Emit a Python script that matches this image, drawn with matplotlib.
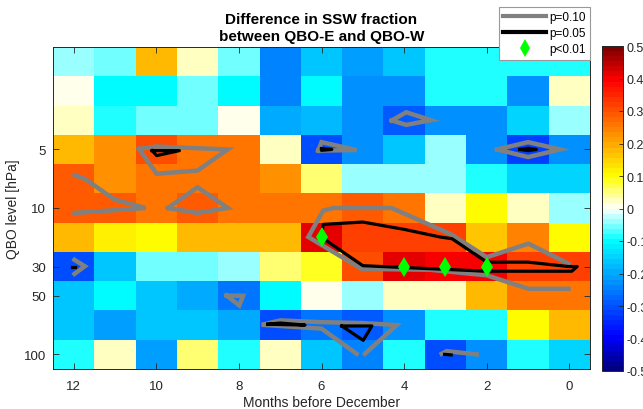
import matplotlib
matplotlib.use("Agg")
import matplotlib.pyplot as plt
import numpy as np
from matplotlib.colors import LinearSegmentedColormap, Normalize
from matplotlib.lines import Line2D

plt.rcParams['font.family'] = ['Liberation Sans', 'DejaVu Sans']

# ---------------- data ----------------
months = [12, 11, 10, 9, 8, 7, 6, 5, 4, 3, 2, 1, 0]
qbo_levels = [1, 2, 3, 5, 7, 10, 20, 30, 50, 70, 100]   # hPa, top to bottom
labelled_levels = [5, 10, 30, 50, 100]
xtick_months = [12, 10, 8, 6, 4, 2, 0]

row_1 = [-0.033, -0.055, 0.175, 0.03, -0.055, -0.235, -0.16, -0.205, -0.16, -0.08, -0.08, -0.08, -0.08]
row_2 = [0.0, -0.1, -0.1, -0.055, -0.1, -0.235, -0.1, -0.22, -0.22, -0.08, -0.08, -0.22, 0.03]
row_3 = [0.03, -0.08, -0.055, -0.055, 0.0, -0.19, -0.175, -0.22, -0.295, -0.22, -0.22, -0.145, -0.033]
row_5 = [0.175, 0.22, 0.31, 0.265, 0.25, 0.03, -0.31, -0.22, -0.16, -0.033, -0.22, -0.325, -0.22]
row_7 = [0.295, 0.22, 0.25, 0.25, 0.25, 0.22, 0.06, -0.033, -0.033, -0.033, -0.08, -0.145, -0.145]
row_10 = [0.295, 0.295, 0.25, 0.295, 0.25, 0.25, 0.25, 0.295, 0.25, 0.03, 0.1, 0.03, -0.033]
row_20 = [0.175, 0.115, 0.1, 0.175, 0.175, 0.175, 0.42, 0.325, 0.325, 0.325, 0.16, 0.235, 0.1]
row_30 = [-0.31, -0.16, -0.055, -0.055, -0.033, 0.06, 0.09, 0.31, 0.42, 0.4, 0.4, 0.325, 0.325]
row_50 = [-0.16, -0.1, -0.16, -0.19, -0.265, -0.1, 0.0, -0.033, 0.03, 0.03, 0.175, 0.25, 0.25]
row_70 = [-0.16, -0.205, -0.16, -0.16, -0.19, -0.31, -0.265, -0.295, -0.22, -0.08, -0.08, 0.1, 0.175]
row_100 = [-0.08, 0.03, -0.205, 0.06, -0.08, 0.03, -0.16, -0.235, -0.08, -0.31, -0.22, -0.08, -0.145]

# significance contours, (month, level-row index) vertices
p10_lines = [
    [(10.42, 2.98), (10.0, 2.9), (8.27, 3.0), (9.0, 3.72), (9.99, 3.83), (10.42, 2.98)],
    [(11.98, 3.87), (11.70, 4.03), (11.01, 4.71), (10.26, 5.0), (11.98, 5.17)],
    [(9.72, 5.0), (9.0, 4.29), (8.27, 5.0), (9.0, 5.17), (9.72, 5.0)],
    [(6.08, 3.04), (6.0, 2.75), (5.15, 3.02), (6.08, 3.04)],
    [(1.75, 3.0), (1.0, 2.75), (0.22, 3.0), (1.0, 3.26), (1.75, 3.0)],
    [(4.30, 2.01), (3.95, 1.73), (3.35, 2.0), (3.95, 2.16), (4.30, 2.01)],
    [(0.02, 6.9), (0.99, 6.22), (2.0, 6.68), (2.86, 5.9), (4.3, 5.0), (5.71, 5.0), (5.96, 5.09),
     (6.32, 5.99), (5.03, 7.08), (3.37, 7.11), (2.0, 7.3), (0.99, 7.76), (0.02, 7.76)],
    [(11.98, 6.77), (11.73, 6.99), (11.98, 7.25)],
    [(8.30, 7.99), (7.90, 8.0), (7.99, 8.33), (8.30, 7.99)],
    [(5.15, 9.98), (6.0, 9.12), (7.45, 8.99), (7.0, 8.84), (6.0, 8.9), (5.0, 8.93), (4.18, 9.0), (4.95, 9.98)],
    [(3.09, 9.98), (2.97, 9.89), (2.24, 10.0)],
]
p05_lines = [
    [(10.1, 3.04), (9.44, 3.04), (9.99, 3.21), (10.1, 3.04)],
    [(6.0, 2.97), (5.75, 3.0), (6.0, 3.03), (6.0, 2.97)],
    [(1.2, 3.0), (1.0, 2.96), (0.8, 3.0), (1.0, 3.04), (1.2, 3.0)],
    [(6.0, 6.0), (5.96, 5.56), (5.0, 5.48), (4.0, 5.73), (3.13, 5.99), (2.84, 6.05), (2.0, 6.85),
     (1.0, 6.85), (0.02, 7.0), (-0.19, 7.0), (-0.06, 7.16), (2.0, 7.16), (5.0, 6.97), (6.0, 6.0)],
    [(12.04, 7.0), (11.96, 7.0)],
    [(7.3, 8.97), (6.4, 9.0), (7.0, 8.93), (7.3, 8.97)],
    [(5.51, 9.03), (4.78, 9.03), (4.99, 9.52), (5.51, 9.03)],
    [(3.02, 10.0), (2.86, 10.02)],
]
p01_months = [6, 4, 3, 2]
p01_rows = [6, 7, 7, 7]

# ---------------- figure ----------------
values = np.array([row_1, row_2, row_3, row_5, row_7, row_10, row_20,
                   row_30, row_50, row_70, row_100])
rows = np.arange(len(qbo_levels))

cmap = LinearSegmentedColormap.from_list(
    "jetwhite",
    [(0.0, (0, 0, 0.5)), (0.1, (0, 0, 1)), (0.4, (0, 1, 1)), (0.5, (1, 1, 1)),
     (0.6, (1, 1, 0)), (0.9, (1, 0, 0)), (1.0, (0.5, 0, 0))], N=64)
norm = Normalize(-0.5, 0.5)

fig = plt.figure(figsize=(6.43, 4.10), dpi=100)
ax = fig.add_axes([53 / 643, 1 - 370 / 410, (590 - 53) / 643, (370 - 48) / 410])
mesh = ax.pcolormesh(months, rows, values, cmap=cmap, norm=norm, shading='nearest')
ax.set_xlim(12.5, -0.5)
ax.set_ylim(10.5, -0.5)

for path in p10_lines:
    xs, ys = zip(*path)
    ax.plot(xs, ys, color=(0.5, 0.5, 0.5), lw=3.2, solid_joinstyle='miter', zorder=3)
for path in p05_lines:
    xs, ys = zip(*path)
    ax.plot(xs, ys, color='black', lw=2.3, zorder=4)
ax.plot(p01_months, p01_rows, linestyle='none', marker='d', color=(0, 1, 0),
        markersize=10, markeredgewidth=0, zorder=5)

dark = (0.15, 0.15, 0.15)
ax.set_xticks(xtick_months)
ax.set_xticklabels([str(m) for m in xtick_months])
ytick_rows = [qbo_levels.index(l) for l in labelled_levels]
ax.set_yticks(ytick_rows)
ax.set_yticklabels([str(l) for l in labelled_levels])
ax.tick_params(direction='in', length=4, width=0.6, top=True, right=True,
               labelsize=9.5, colors=dark)
ax.tick_params(axis='x', pad=8)
ax.tick_params(axis='y', pad=5)
for s in ax.spines.values():
    s.set_color(dark)
    s.set_linewidth(0.7)
ax.set_xlabel("Months before December", fontsize=10, color=dark, labelpad=2)
ax.set_ylabel("QBO level [hPa]", fontsize=10, color=dark, labelpad=3)
ax.set_title("Difference in SSW fraction\nbetween QBO-E and QBO-W",
             fontsize=11, fontweight='bold', pad=5, linespacing=1.3)

cax = fig.add_axes([602 / 643, 1 - 372 / 410, 20.5 / 643, (372 - 47) / 410])
cb = fig.colorbar(mesh, cax=cax)
cb.set_ticks(np.round(np.arange(-0.5, 0.51, 0.1), 1))
cb.set_ticklabels(['-0.5', '-0.4', '-0.3', '-0.2', '-0.1', '0',
                   '0.1', '0.2', '0.3', '0.4', '0.5'])
cax.tick_params(direction='in', length=3, width=0.6, labelsize=9, colors=dark, pad=3)
cb.outline.set_edgecolor(dark)
cb.outline.set_linewidth(0.7)

handles = [Line2D([], [], color=(0.5, 0.5, 0.5), lw=3),
           Line2D([], [], color='black', lw=3),
           Line2D([], [], linestyle='none', marker='d', color=(0, 1, 0),
                  markersize=9, markeredgewidth=0)]
leg = fig.legend(handles, ['p=0.10', 'p=0.05', 'p<0.01'], loc='upper right',
                 bbox_to_anchor=(590 / 643, 1 - 8 / 410), fontsize=8.5,
                 fancybox=False, framealpha=1, edgecolor=(0.6, 0.6, 0.6),
                 handlelength=3.6, handletextpad=0.3, labelspacing=0.35,
                 borderpad=0.35, borderaxespad=0)
leg.get_frame().set_linewidth(0.8)
leg.set_zorder(10)

fig.savefig("out.png", dpi=100)
